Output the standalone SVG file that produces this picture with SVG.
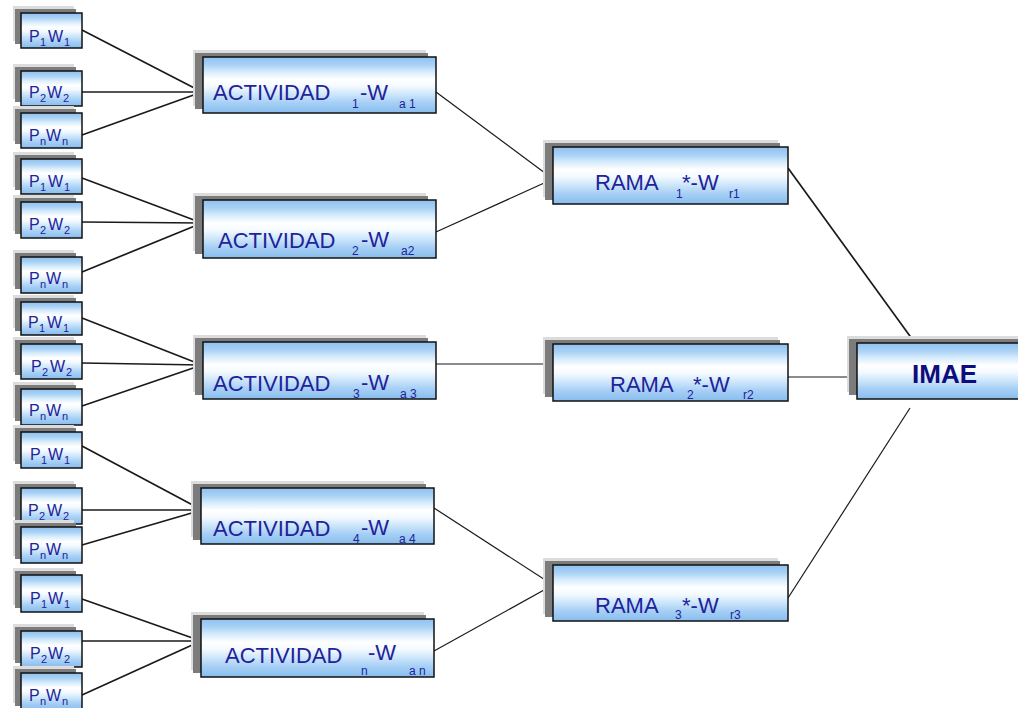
<svg xmlns="http://www.w3.org/2000/svg" width="1018" height="708" viewBox="0 0 1018 708">
<defs>
<linearGradient id="bg" x1="0" y1="0" x2="0" y2="1">
<stop offset="0" stop-color="#8fc1ef"/>
<stop offset="0.14" stop-color="#a9d1f5"/>
<stop offset="0.26" stop-color="#d5ebfc"/>
<stop offset="0.4" stop-color="#ffffff"/>
<stop offset="0.52" stop-color="#f4faff"/>
<stop offset="0.66" stop-color="#cfe7fb"/>
<stop offset="0.82" stop-color="#a6cff5"/>
<stop offset="1" stop-color="#88bdee"/>
</linearGradient>
</defs>
<style>
.b{fill:url(#bg);stroke:#111;stroke-width:1.5}
.sh1{fill:#dcdcdc}
.sh2{fill:#7c7c7c}
.t{font-family:"Liberation Sans",Arial,sans-serif;fill:#22229a}
.sm{font-size:16px}
.lg{font-size:22px}
.s{font-size:11px}
.ls{font-size:12px}
.imae{font-family:"Liberation Sans",Arial,sans-serif;font-size:26px;font-weight:bold;fill:#0d0d7d}
.c line{stroke:#1a1a1a;stroke-width:1.7}
.c line.th{stroke-width:1.2}
</style>
<rect width="1018" height="708" fill="#ffffff"/>

<g id="connectors" class="c">
<line x1="82" y1="30" x2="202" y2="92"/>
<line x1="82" y1="92" x2="202" y2="92"/>
<line x1="82" y1="135" x2="202" y2="92"/>
<line x1="82" y1="178" x2="202" y2="223"/>
<line x1="82" y1="222" x2="202" y2="223"/>
<line x1="82" y1="272" x2="202" y2="223"/>
<line x1="82" y1="318" x2="202" y2="365"/>
<line x1="82" y1="363" x2="202" y2="365"/>
<line x1="82" y1="406" x2="202" y2="365"/>
<line x1="82" y1="446" x2="202" y2="510"/>
<line x1="82" y1="510" x2="202" y2="510"/>
<line x1="82" y1="545" x2="202" y2="510"/>
<line x1="82" y1="599" x2="201" y2="641"/>
<line x1="82" y1="641" x2="201" y2="641"/>
<line x1="82" y1="695" x2="201" y2="641"/>
<line class="th" x1="436" y1="92" x2="553" y2="179"/>
<line class="th" x1="436" y1="232" x2="553" y2="179"/>
<line class="th" x1="436" y1="364" x2="553" y2="364"/>
<line class="th" x1="434" y1="508" x2="553" y2="585"/>
<line class="th" x1="434" y1="651" x2="553" y2="585"/>
<line x1="788" y1="168" x2="915" y2="343"/>
<line class="th" x1="788" y1="377" x2="857" y2="377"/>
<line class="th" x1="788" y1="598" x2="910" y2="408"/>
</g>

<!-- P/W boxes -->
<g id="p1w1a"><rect class="sh1" x="13" y="6" width="61" height="35"/><rect class="sh2" x="15" y="9" width="61" height="35"/><rect class="b" x="21" y="13" width="61" height="35"/>
<text class="t sm"><tspan x="29" y="42">P</tspan><tspan class="s" x="40" y="46">1</tspan><tspan x="48" y="42">W</tspan><tspan class="s" x="64" y="46">1</tspan></text></g>
<g id="p2w2a"><rect class="sh1" x="13" y="64" width="61" height="35"/><rect class="sh2" x="15" y="67" width="61" height="35"/><rect class="b" x="21" y="71" width="61" height="35"/>
<text class="t sm"><tspan x="29" y="98">P</tspan><tspan class="s" x="40" y="102">2</tspan><tspan x="47" y="98">W</tspan><tspan class="s" x="63" y="102">2</tspan></text></g>
<g id="pnwna"><rect class="sh1" x="13" y="106" width="61" height="35"/><rect class="sh2" x="15" y="109" width="61" height="35"/><rect class="b" x="21" y="113" width="61" height="35"/>
<text class="t sm"><tspan x="29" y="141">P</tspan><tspan class="s" x="40" y="145">n</tspan><tspan x="46" y="141">W</tspan><tspan class="s" x="62" y="145">n</tspan></text></g>

<g id="p1w1b"><rect class="sh1" x="13" y="152" width="61" height="35"/><rect class="sh2" x="15" y="155" width="61" height="35"/><rect class="b" x="21" y="159" width="61" height="35"/>
<text class="t sm"><tspan x="29" y="187">P</tspan><tspan class="s" x="40" y="191">1</tspan><tspan x="48" y="187">W</tspan><tspan class="s" x="64" y="191">1</tspan></text></g>
<g id="p2w2b"><rect class="sh1" x="13" y="195" width="61" height="36"/><rect class="sh2" x="15" y="198" width="61" height="36"/><rect class="b" x="21" y="202" width="61" height="36"/>
<text class="t sm"><tspan x="29" y="230">P</tspan><tspan class="s" x="40" y="234">2</tspan><tspan x="48" y="230">W</tspan><tspan class="s" x="64" y="234">2</tspan></text></g>
<g id="pnwnb"><rect class="sh1" x="13" y="250" width="61" height="36"/><rect class="sh2" x="15" y="253" width="61" height="36"/><rect class="b" x="21" y="257" width="61" height="36"/>
<text class="t sm"><tspan x="29" y="284">P</tspan><tspan class="s" x="40" y="288">n</tspan><tspan x="46" y="284">W</tspan><tspan class="s" x="62" y="288">n</tspan></text></g>

<g id="p1w1c"><rect class="sh1" x="13" y="295" width="61" height="33"/><rect class="sh2" x="15" y="298" width="61" height="33"/><rect class="b" x="21" y="302" width="61" height="33"/>
<text class="t sm"><tspan x="28" y="328">P</tspan><tspan class="s" x="39" y="332">1</tspan><tspan x="47" y="328">W</tspan><tspan class="s" x="63" y="332">1</tspan></text></g>
<g id="p2w2c"><rect class="sh1" x="13" y="337" width="61" height="35"/><rect class="sh2" x="15" y="340" width="61" height="35"/><rect class="b" x="21" y="344" width="61" height="35"/>
<text class="t sm"><tspan x="31" y="372">P</tspan><tspan class="s" x="42" y="376">2</tspan><tspan x="50" y="372">W</tspan><tspan class="s" x="66" y="376">2</tspan></text></g>
<g id="pnwnc"><rect class="sh1" x="13" y="382" width="61" height="36"/><rect class="sh2" x="15" y="385" width="61" height="36"/><rect class="b" x="21" y="389" width="61" height="36"/>
<text class="t sm"><tspan x="29" y="416">P</tspan><tspan class="s" x="40" y="420">n</tspan><tspan x="46" y="416">W</tspan><tspan class="s" x="62" y="420">n</tspan></text></g>

<g id="p1w1d"><rect class="sh1" x="13" y="425" width="61" height="36"/><rect class="sh2" x="15" y="428" width="61" height="36"/><rect class="b" x="21" y="432" width="61" height="36"/>
<text class="t sm"><tspan x="30" y="460">P</tspan><tspan class="s" x="41" y="464">1</tspan><tspan x="48" y="460">W</tspan><tspan class="s" x="64" y="464">1</tspan></text></g>
<g id="p2w2d"><rect class="sh1" x="13" y="481" width="61" height="36"/><rect class="sh2" x="15" y="484" width="61" height="36"/><rect class="b" x="21" y="488" width="61" height="36"/>
<text class="t sm"><tspan x="28" y="516">P</tspan><tspan class="s" x="39" y="520">2</tspan><tspan x="47" y="516">W</tspan><tspan class="s" x="63" y="520">2</tspan></text></g>
<g id="pnwnd"><rect class="sh1" x="13" y="520" width="61" height="36"/><rect class="sh2" x="15" y="523" width="61" height="36"/><rect class="b" x="21" y="527" width="61" height="36"/>
<text class="t sm"><tspan x="29" y="555">P</tspan><tspan class="s" x="40" y="559">n</tspan><tspan x="46" y="555">W</tspan><tspan class="s" x="62" y="559">n</tspan></text></g>

<g id="p1w1e"><rect class="sh1" x="13" y="568" width="61" height="37"/><rect class="sh2" x="15" y="571" width="61" height="37"/><rect class="b" x="21" y="575" width="61" height="37"/>
<text class="t sm"><tspan x="30" y="604">P</tspan><tspan class="s" x="41" y="608">1</tspan><tspan x="48" y="604">W</tspan><tspan class="s" x="64" y="608">1</tspan></text></g>
<g id="p2w2e"><rect class="sh1" x="13" y="624" width="61" height="36"/><rect class="sh2" x="15" y="627" width="61" height="36"/><rect class="b" x="21" y="631" width="61" height="36"/>
<text class="t sm"><tspan x="30" y="659">P</tspan><tspan class="s" x="41" y="663">2</tspan><tspan x="48" y="659">W</tspan><tspan class="s" x="64" y="663">2</tspan></text></g>
<g id="pnwne"><rect class="sh1" x="13" y="666" width="61" height="37"/><rect class="sh2" x="15" y="669" width="61" height="37"/><rect class="b" x="21" y="673" width="61" height="37"/>
<text class="t sm"><tspan x="29" y="701">P</tspan><tspan class="s" x="40" y="705">n</tspan><tspan x="46" y="701">W</tspan><tspan class="s" x="62" y="705">n</tspan></text></g>

<!-- Actividad boxes -->
<g id="act1"><rect class="sh1" x="193" y="50" width="233" height="56"/><rect class="sh2" x="195" y="53" width="233" height="56"/><rect class="b" x="203" y="57" width="233" height="56"/>
<text class="t lg"><tspan x="213" y="100">ACTIVIDAD</tspan><tspan class="ls" x="352" y="108">1</tspan><tspan x="360" y="100">-W</tspan><tspan class="ls" x="399" y="108">a 1</tspan></text></g>
<g id="act2"><rect class="sh1" x="193" y="193" width="233" height="58"/><rect class="sh2" x="195" y="196" width="233" height="58"/><rect class="b" x="203" y="200" width="233" height="58"/>
<text class="t lg"><tspan x="218" y="248">ACTIVIDAD</tspan><tspan class="ls" x="352" y="255">2</tspan><tspan x="361" y="247">-W</tspan><tspan class="ls" x="401" y="255">a2</tspan></text></g>
<g id="act3"><rect class="sh1" x="193" y="335" width="233" height="57"/><rect class="sh2" x="195" y="338" width="233" height="57"/><rect class="b" x="203" y="342" width="233" height="57"/>
<text class="t lg"><tspan x="213" y="391">ACTIVIDAD</tspan><tspan class="ls" x="353" y="398">3</tspan><tspan x="361" y="390">-W</tspan><tspan class="ls" x="400" y="398">a 3</tspan></text></g>
<g id="act4"><rect class="sh1" x="191" y="481" width="233" height="56"/><rect class="sh2" x="193" y="484" width="233" height="56"/><rect class="b" x="201" y="488" width="233" height="56"/>
<text class="t lg"><tspan x="213" y="536">ACTIVIDAD</tspan><tspan class="ls" x="353" y="543">4</tspan><tspan x="361" y="535">-W</tspan><tspan class="ls" x="399" y="543">a 4</tspan></text></g>
<g id="actn"><rect class="sh1" x="191" y="612" width="233" height="58"/><rect class="sh2" x="193" y="615" width="233" height="58"/><rect class="b" x="201" y="619" width="233" height="58"/>
<text class="t lg"><tspan x="225" y="663">ACTIVIDAD</tspan><tspan class="ls" x="361" y="675">n</tspan><tspan x="368" y="660">-W</tspan><tspan class="ls" x="409" y="675">a n</tspan></text></g>

<!-- Rama boxes -->
<g id="rama1"><rect class="sh1" x="543" y="140" width="235" height="57"/><rect class="sh2" x="545" y="143" width="235" height="57"/><rect class="b" x="553" y="147" width="235" height="57"/>
<text class="t lg"><tspan x="595" y="190">RAMA</tspan><tspan class="ls" x="676" y="198">1</tspan><tspan x="682" y="190">*-W</tspan><tspan class="ls" x="729" y="198">r1</tspan></text></g>
<g id="rama2"><rect class="sh1" x="543" y="337" width="235" height="57"/><rect class="sh2" x="545" y="340" width="235" height="57"/><rect class="b" x="553" y="344" width="235" height="57"/>
<text class="t lg"><tspan x="610" y="392">RAMA</tspan><tspan class="ls" x="687" y="399">2</tspan><tspan x="693" y="392">*-W</tspan><tspan class="ls" x="743" y="399">r2</tspan></text></g>
<g id="rama3"><rect class="sh1" x="543" y="558" width="235" height="56"/><rect class="sh2" x="545" y="561" width="235" height="56"/><rect class="b" x="553" y="565" width="235" height="56"/>
<text class="t lg"><tspan x="595" y="613">RAMA</tspan><tspan class="ls" x="675" y="619">3</tspan><tspan x="682" y="613">*-W</tspan><tspan class="ls" x="730" y="619">r3</tspan></text></g>

<!-- IMAE -->
<g id="imae"><rect class="sh1" x="847" y="336" width="175" height="56"/><rect class="sh2" x="849" y="339" width="175" height="56"/><rect class="b" x="857" y="343" width="170" height="56"/>
<text class="imae" x="912" y="383">IMAE</text></g>
</svg>
